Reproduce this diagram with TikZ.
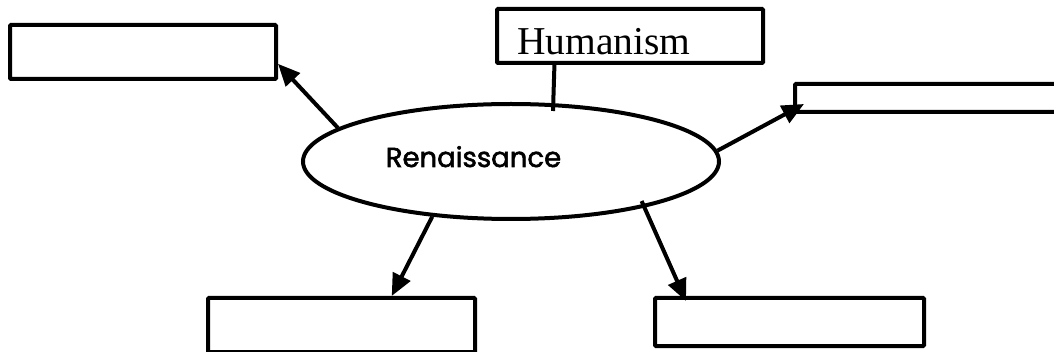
\documentclass[tikz,border=0pt]{standalone}
\usepackage{fontspec}
\setmainfont{Liberation Serif}
\newfontfamily\renfont[FakeBold=2]{Poppins}
\usetikzlibrary{arrows.meta,shapes.geometric,calc}

\tikzset{
	box/.style={draw, line width=4pt, rounded corners=1pt, inner sep=0pt, minimum width=266pt, minimum height=54pt},
	arr/.style={line width=4pt, -{Triangle[length=22pt,width=19pt]}},
	conn/.style={line width=4pt}
}

\begin{document}
\begin{tikzpicture}[x=1pt, y=-1pt]
	\clip (0,0) rectangle (1054,352);
	\fill[white] (0,0) rectangle (1054,352);

	\node[box] (tl) at (143,52) {};
	\node[box] (hum) at (630,36) {};
	\node[anchor=base west, inner sep=0pt, font=\fontsize{39.5}{40}\selectfont] (humtext) at (517,55) {Humanism};
	\node[box, minimum height=28pt] (rb) at (928,98) {};
	\node[box, minimum width=267pt] (bl) at (341.5,325) {};
	\node[box, minimum width=269pt, minimum height=48pt] (br) at (789.5,322) {};

	\node[ellipse, draw, line width=4pt, inner sep=0pt, minimum width=416pt, minimum height=115pt] (ren) at (511,161.5) {};
	\node[anchor=base, inner sep=0pt, font=\renfont\fontsize{27.5}{28}\selectfont] (rentext) at (473.5,167) {Renaissance};

	\draw[arr] (ren.169) -- (tl.-5.6);
	\draw[conn] (hum.-159.4) -- ($(ren.north)+(42,9)$);
	\draw[arr] (ren.3) -- ($(rb.south west)+(11,-10)$);
	\draw[arr] (ren.-145) -- (bl.30.7);
	\draw[arr, shorten <=-7pt] (ren.-19.4) -- ($(br.north west)+(33,5)$);
\end{tikzpicture}
\end{document}
